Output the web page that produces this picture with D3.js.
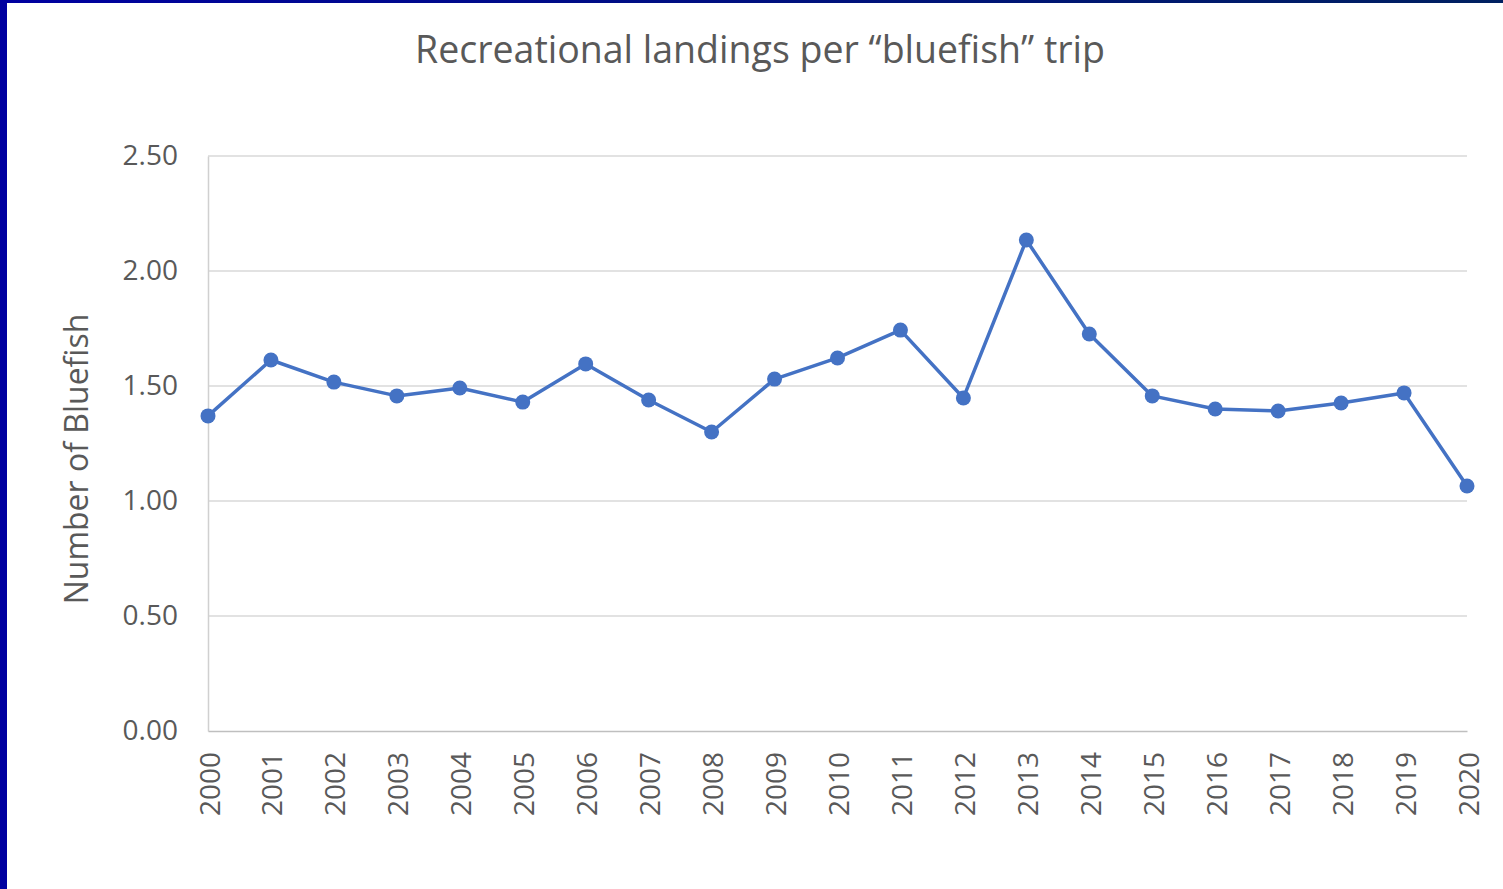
<!DOCTYPE html>
<html>
<head>
<meta charset="utf-8">
<script src="https://cdn.jsdelivr.net/npm/d3@7"></script>
<style>
  html, body { margin: 0; padding: 0; background: #fff; }
  svg { display: block; }
</style>
</head>
<body>
<svg id="chart" width="1503" height="889"></svg>
<script>
const years = ["2000","2001","2002","2003","2004","2005","2006","2007","2008","2009","2010","2011","2012","2013","2014","2015","2016","2017","2018","2019","2020"];
const landingsPerTrip = [1.37, 1.613, 1.517, 1.457, 1.491, 1.430, 1.596, 1.439, 1.300, 1.530, 1.622, 1.743, 1.448, 2.135, 1.726, 1.457, 1.400, 1.391, 1.426, 1.470, 1.065];
const yTicks = [0, 0.5, 1.0, 1.5, 2.0, 2.5];
const titleText = "Recreational landings per \u201Cbluefish\u201D trip";
const yAxisTitle = "Number of Bluefish";

const W = 1503, H = 889;
const margin = { left: 208, right: 36, top: 156, bottom: 158 };
const svg = d3.select("#chart");
const font = "'Open Sans', 'Liberation Sans', sans-serif";
const textColor = "#595959";

// Border gradient
const defs = svg.append("defs");
const grad = defs.append("linearGradient").attr("id", "topgrad").attr("x1", "0%").attr("x2", "100%");
grad.append("stop").attr("offset", "0%").attr("stop-color", "#0000a0");
grad.append("stop").attr("offset", "100%").attr("stop-color", "#002060");
svg.append("rect").attr("x", 0).attr("y", 0).attr("width", W).attr("height", 3).attr("fill", "url(#topgrad)");
svg.append("rect").attr("x", 0).attr("y", 0).attr("width", 7).attr("height", H).attr("fill", "#0000a0");

const x = d3.scalePoint().domain(years).range([margin.left, W - margin.right]);
const y = d3.scaleLinear().domain([0, 2.5]).range([H - margin.bottom, margin.top]);

// Gridlines
svg.append("g").selectAll("line").data(yTicks.filter(d => d > 0)).join("line")
  .attr("x1", margin.left).attr("x2", W - margin.right)
  .attr("y1", d => y(d)).attr("y2", d => y(d))
  .attr("stroke", "#d9d9d9").attr("stroke-width", 1.5);

// Y axis
const yAxis = d3.axisLeft(y).tickValues(yTicks).tickFormat(d3.format(".2f")).tickSize(0).tickPadding(30);
const gy = svg.append("g").attr("transform", `translate(${margin.left},0)`).call(yAxis);
gy.select(".domain").attr("stroke", "#d0d0d0").attr("stroke-width", 1.5);
gy.selectAll("text").attr("font-family", font).attr("font-size", 28).attr("fill", textColor);

// X axis
const xAxis = d3.axisBottom(x).tickSize(0).tickPadding(0);
const gx = svg.append("g").attr("transform", `translate(0,${H - margin.bottom})`).call(xAxis);
gx.select(".domain").attr("stroke", "#bfbfbf").attr("stroke-width", 1.5);
gx.selectAll("text")
  .attr("font-family", font).attr("font-size", 28).attr("fill", textColor)
  .attr("text-anchor", "end").attr("dy", null)
  .attr("transform", "translate(0,21) rotate(-90)")
  .attr("x", 0).attr("y", 0).attr("dominant-baseline", "central");

// Line
const line = d3.line().x((d, i) => x(years[i])).y(d => y(d));
svg.append("path").datum(landingsPerTrip)
  .attr("d", line).attr("fill", "none").attr("stroke", "#4472c4").attr("stroke-width", 3.5).attr("stroke-linejoin", "round");

svg.append("g").selectAll("circle").data(landingsPerTrip).join("circle")
  .attr("cx", (d, i) => x(years[i])).attr("cy", d => y(d)).attr("r", 7.5).attr("fill", "#4472c4");

// Title
svg.append("text").attr("x", 760).attr("y", 63).attr("text-anchor", "middle")
  .attr("font-family", font).attr("font-size", 37.5).attr("fill", textColor).text(titleText);

// Y axis title
svg.append("text").attr("transform", `translate(88,459) rotate(-90)`).attr("text-anchor", "middle")
  .attr("font-family", font).attr("font-size", 32).attr("fill", textColor).text(yAxisTitle);
</script>
</body>
</html>
